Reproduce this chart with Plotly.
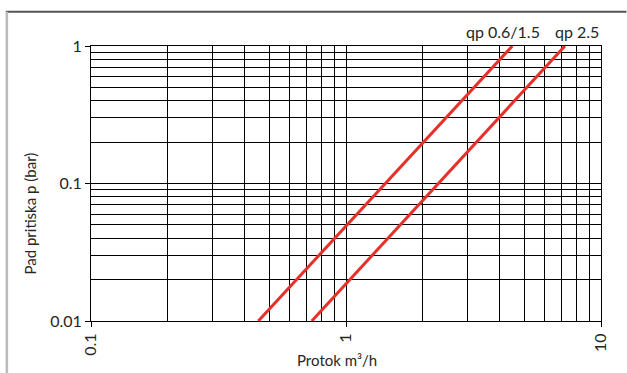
import numpy as np
import plotly.graph_objects as go

# Data
p_bar = [0.01, 1.0]                 # pressure drop (bar) at line ends
q_qp06_15 = [0.453, 4.49]           # flow m3/h for qp 0.6/1.5
q_qp25 = [0.734, 7.22]              # flow m3/h for qp 2.5
series_names = ["qp 0.6/1.5", "qp 2.5"]
label_shift = [-9, 12]
x_ticks = [0.1, 1, 10]
x_ticklabels = ["0.1", "1", "10"]
y_ticks = [0.01, 0.1, 1]
y_ticklabels = ["0.01", "0.1", "1"]
minor_mult = [2, 3, 4, 5, 6, 7, 8, 9]

FONT = "Lato"
TXT = "#262626"
RED = "#e8302a"
FS = 16

x_minor = [m * d for d in [0.1, 1] for m in minor_mult]
y_minor = [m * d for d in [0.01, 0.1] for m in minor_mult]

fig = go.Figure()
for name, q, sh in zip(series_names, [q_qp06_15, q_qp25], label_shift):
    fig.add_trace(go.Scatter(x=q, y=p_bar, mode="lines", name=name,
                             line=dict(color=RED, width=3), showlegend=False))
    fig.add_annotation(x=np.log10(q[-1]), y=np.log10(p_bar[-1]), xref="x", yref="y",
                       text=name, showarrow=False, xanchor="center", yanchor="middle",
                       xshift=sh, yshift=15,
                       font=dict(family=FONT, size=FS, color=TXT))

fig.update_xaxes(type="log", range=[-1, 1], tickvals=x_ticks, ticktext=x_ticklabels,
                 tickangle=-90, ticks="outside", ticklen=5, tickcolor="black",
                 showline=True, linecolor="black", linewidth=1, mirror=True,
                 showgrid=True, gridcolor="black", gridwidth=1, automargin=False,
                 minor=dict(tickvals=x_minor, showgrid=True, gridcolor="black", gridwidth=1),
                 tickfont=dict(family=FONT, size=FS, color=TXT), zeroline=False)
fig.update_yaxes(type="log", range=[-2, 0], tickvals=y_ticks, ticktext=y_ticklabels,
                 ticks="outside", ticklen=5, tickcolor="black",
                 showline=True, linecolor="black", linewidth=1, mirror=True,
                 showgrid=True, gridcolor="black", gridwidth=1, automargin=False,
                 minor=dict(tickvals=y_minor, showgrid=True, gridcolor="black", gridwidth=1),
                 tickfont=dict(family=FONT, size=FS, color=TXT), zeroline=False)

# axis titles
fig.add_annotation(x=0.482, y=-0.142, xref="paper", yref="paper", text="Protok m³/h",
                   showarrow=False, xanchor="center", yanchor="middle",
                   font=dict(family=FONT, size=15, color=TXT))
fig.add_annotation(x=-0.12, y=0.39, xref="paper", yref="paper", text="Pad pritiska p (bar)",
                   showarrow=False, textangle=-90, xanchor="center", yanchor="middle",
                   font=dict(family=FONT, size=15, color=TXT))

# outer frame (top and left edges visible)
fig.add_shape(type="line", xref="paper", yref="paper", x0=-0.167, x1=1.05, y0=1.125, y1=1.125,
              line=dict(color="#555555", width=2), layer="above")
fig.add_shape(type="line", xref="paper", yref="paper", x0=-0.165, x1=-0.165, y0=1.125, y1=-0.3,
              line=dict(color="#bbbbbb", width=2.5), layer="above")

fig.update_layout(width=627, height=373, margin=dict(l=91, r=26, t=46, b=52, autoexpand=False),
                  paper_bgcolor="white", plot_bgcolor="white",
                  font=dict(family=FONT, color=TXT))
fig.write_html("out.html", config={"displayModeBar": False},
               post_script="document.body.style.margin='0';")
